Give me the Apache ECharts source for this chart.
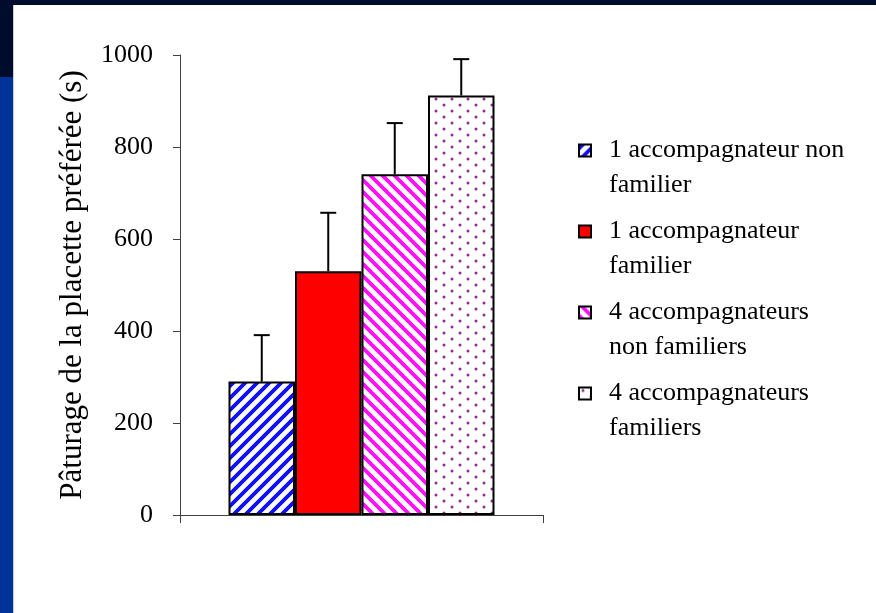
<!DOCTYPE html>
<html>
<head>
<meta charset="utf-8">
<script src="https://cdn.jsdelivr.net/npm/echarts@6/dist/echarts.min.js"></script>
<style>
  html, body { margin: 0; padding: 0; width: 876px; height: 613px; overflow: hidden; background: #ffffff; }
  .deco { position: absolute; }
  #chart { position: absolute; left: 0; top: 0; width: 876px; height: 613px; }
</style>
</head>
<body>
<div class="deco" style="left:0;top:0;width:876px;height:5px;background:#000c2c;"></div>
<div class="deco" style="left:0;top:0;width:13px;height:77px;background:#000c2c;"></div>
<div class="deco" style="left:0;top:77px;width:13px;height:536px;background:#00339a;"></div>
<div class="deco" style="left:13px;top:5px;width:1px;height:608px;background:#c8cdd8;"></div>
<div id="chart"></div>
<script>
// ---- data ----
const categories = [''];
const seriesNames = [
  '1 accompagnateur non familier',
  '1 accompagnateur familier',
  '4 accompagnateurs non familiers',
  '4 accompagnateurs familiers'
];
const legendLines = [
  ['1 accompagnateur non', 'familier'],
  ['1 accompagnateur', 'familier'],
  ['4 accompagnateurs', 'non familiers'],
  ['4 accompagnateurs', 'familiers']
];
const means = [290, 530, 741, 912];
const errors = [101, 127, 111, 79];
const yTicks = { min: 0, max: 1000, interval: 200 };
const yTitle = 'Pâturage de la placette préférée (s)';

// ---- patterns ----
function stripes(rgb, up) {
  const s = 12;
  const c = document.createElement('canvas');
  c.width = s; c.height = s;
  const g = c.getContext('2d');
  const img = g.createImageData(s, s);
  for (let y = 0; y < s; y++) {
    for (let x = 0; x < s; x++) {
      const t = up ? ((x + y) % s) : ((x - y + s) % s);
      const d = Math.abs(t + 0.5 - s / 4 - 0.5);
      let a = d < 2.2 ? 1 : (d < 3.2 ? 3.2 - d : 0);
      const o = (y * s + x) * 4;
      img.data[o] = Math.round(255 * (1 - a) + rgb[0] * a);
      img.data[o + 1] = Math.round(255 * (1 - a) + rgb[1] * a);
      img.data[o + 2] = Math.round(255 * (1 - a) + rgb[2] * a);
      img.data[o + 3] = 255;
    }
  }
  g.putImageData(img, 0, 0);
  return c;
}
function dots(color) {
  const c = document.createElement('canvas');
  c.width = 16; c.height = 12;
  const g = c.getContext('2d');
  g.fillStyle = '#ffffff'; g.fillRect(0, 0, 16, 12);
  g.fillStyle = color;
  g.beginPath(); g.arc(4, 3, 1.5, 0, Math.PI * 2); g.fill();
  g.beginPath(); g.arc(12, 9, 1.5, 0, Math.PI * 2); g.fill();
  return c;
}
const fills = [
  { image: stripes([16, 16, 255], true), repeat: 'repeat' },
  '#ff0000',
  { image: stripes([255, 16, 255], false), repeat: 'repeat' },
  { image: dots('#8e2f8e'), repeat: 'repeat' }
];

const FONT = 'Liberation Serif';
const BAR_W = 66.5;

const chart = echarts.init(document.getElementById('chart'), null, { renderer: 'canvas' });

const barSeries = seriesNames.map((name, i) => ({
  name: name,
  type: 'bar',
  barWidth: BAR_W,
  barGap: '0%',
  data: [means[i]],
  itemStyle: { color: fills[i], borderColor: '#000000', borderWidth: 2 },
  emphasis: { disabled: true },
  z: 2
}));

const errData = means.map((m, i) => [0, m, m + errors[i], i]);

const errSeries = {
  name: 'err',
  type: 'custom',
  z: 5,
  data: errData,
  renderItem: function (params, api) {
    const center = api.coord([api.value(0), 0])[0];
    const idx = api.value(3);
    const x = center + (idx - (means.length - 1) / 2) * BAR_W;
    const y0 = api.coord([0, api.value(1)])[1];
    const y1 = api.coord([0, api.value(2)])[1];
    const style = { stroke: '#000000', lineWidth: 2 };
    return {
      type: 'group',
      children: [
        { type: 'line', shape: { x1: x, y1: y0, x2: x, y2: y1 }, style: style },
        { type: 'line', shape: { x1: x - 8, y1: y1, x2: x + 8, y2: y1 }, style: style }
      ]
    };
  }
};

chart.setOption({
  animation: false,
  grid: { left: 180, right: 333, top: 55, bottom: 98 },
  legend: {
    orient: 'vertical',
    left: 578,
    top: 98,
    padding: 0,
    itemGap: -24,
    itemWidth: 12,
    itemHeight: 12,
    icon: 'rect',
    selectedMode: false,
    data: seriesNames,
    formatter: function (name) {
      const i = seriesNames.indexOf(name);
      return '\n' + legendLines[i].join('\n');
    },
    textStyle: { fontFamily: FONT, fontSize: 26, lineHeight: 35, color: '#000000', padding: [0, 0, 0, 13] }
  },
  xAxis: {
    type: 'category',
    data: categories,
    axisLine: { lineStyle: { color: '#404040', width: 1 } },
    axisTick: { show: true, length: 8, lineStyle: { color: '#404040' } },
    axisLabel: { show: false },
    splitLine: { show: false }
  },
  yAxis: {
    type: 'value',
    min: yTicks.min,
    max: yTicks.max,
    interval: yTicks.interval,
    name: yTitle,
    nameLocation: 'middle',
    nameRotate: 90,
    nameGap: 92,
    nameTextStyle: { fontFamily: FONT, fontSize: 31, color: '#000000' },
    axisLine: { show: true, lineStyle: { color: '#404040', width: 1 } },
    axisTick: { show: true, length: 7, lineStyle: { color: '#404040' } },
    axisLabel: { fontFamily: FONT, fontSize: 26, color: '#000000', margin: 27, formatter: function (v) { return String(v); } },
    splitLine: { show: false }
  },
  series: barSeries.concat([errSeries])
});
</script>
</body>
</html>
